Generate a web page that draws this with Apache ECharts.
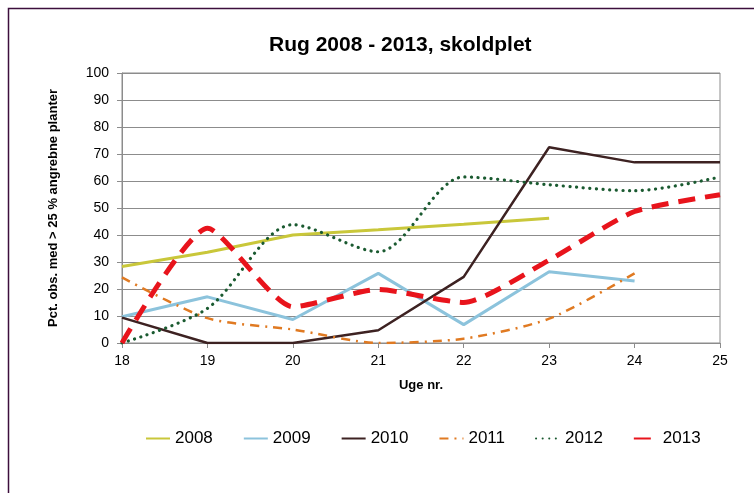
<!DOCTYPE html>
<html>
<head>
<meta charset="utf-8">
<script src="https://cdn.jsdelivr.net/npm/echarts@6/dist/echarts.min.js"></script>
<style>html,body{margin:0;padding:0;background:#fff}#c{width:754px;height:493px}</style>
</head>
<body>
<div id="c"></div>
<script>
var weeks = ['18','19','20','21','22','23','24','25'];
var yTicks = [0,10,20,30,40,50,60,70,80,90,100];
var s2008 = [28.3, 33.6, 40.0, 41.9, 44.0, 46.2, null, null];
var s2009 = [9.7, 17.1, 8.7, 25.8, 6.8, 26.4, 23.0, null];
var s2010 = [9.4, 0, 0, 4.7, 24.5, 72.5, 66.9, 66.9];
var s2011 = [24.3, 9.2, 5.0, 0, 1.6, 9.0, 25.8, null];
var s2012 = [0, 12.8, 43.8, 33.8, 61.5, 58.6, 56.4, 61.5];
var s2013 = [0, 42.5, 13.4, 19.8, 15.0, 30.7, 48.7, 54.9];

var chart = echarts.init(document.getElementById('c'));
var font = 'Liberation Sans, Arial, sans-serif';
chart.setOption({
  animation: false,
  textStyle: {fontFamily: font},
  title: {
    text: 'Rug 2008 - 2013, skoldplet',
    left: 264, top: 30,
    textStyle: {fontSize: 21, fontWeight: 'bold', color: '#000', fontFamily: font}
  },
  graphic: [{
    type: 'rect', left: 6, top: 6,
    shape: {width: 800, height: 600},
    style: {fill: 'none', stroke: '#3c0f3c', lineWidth: 1.5}
  }],
  legend: {
    top: 425, left: 140,
    itemWidth: 24, itemHeight: 12, itemGap: 30,
    itemStyle: {opacity: 0},
    textStyle: {fontSize: 17, color: '#000', fontFamily: font},
    data: ['2008','2009','2010','2011','2012','2013']
  },
  grid: {left: 122, right: 34, top: 73, bottom: 150, show: true, borderColor: '#8c8c8c', borderWidth: 1},
  xAxis: {
    type: 'category', data: weeks, boundaryGap: false,
    name: 'Uge nr.', nameLocation: 'middle', nameGap: 36,
    nameTextStyle: {fontSize: 13, fontWeight: 'bold', color: '#000', fontFamily: font},
    axisLine: {lineStyle: {color: '#8c8c8c'}},
    axisTick: {show: true, length: 5, lineStyle: {color: '#8c8c8c'}},
    axisLabel: {fontSize: 14, color: '#000', margin: 11, fontFamily: font},
    splitLine: {show: false}
  },
  yAxis: {
    type: 'value', min: 0, max: 100, interval: 10,
    name: 'Pct. obs. med > 25 % angrebne planter', nameLocation: 'middle', nameGap: 62,
    nameTextStyle: {fontSize: 13, fontWeight: 'bold', color: '#000', fontFamily: font},
    axisLine: {show: true, lineStyle: {color: '#8c8c8c'}},
    axisTick: {show: true, length: 5, lineStyle: {color: '#8c8c8c'}},
    axisLabel: {fontSize: 14, color: '#000', margin: 13, fontFamily: font,
      formatter: function(v){ return yTicks.indexOf(v) >= 0 ? String(v) : ''; }},
    splitLine: {lineStyle: {color: '#8c8c8c', width: 1}}
  },
  series: [
    {name: '2008', type: 'line', data: s2008, symbol: 'none', itemStyle: {color: '#c9c73a'},
     lineStyle: {color: '#c9c73a', width: 3}},
    {name: '2009', type: 'line', data: s2009, symbol: 'none', itemStyle: {color: '#8cc3dc'},
     lineStyle: {color: '#8cc3dc', width: 3}},
    {name: '2010', type: 'line', data: s2010, symbol: 'none', itemStyle: {color: '#3d2222'},
     lineStyle: {color: '#3d2222', width: 2.5}},
    {name: '2011', type: 'line', data: s2011, symbol: 'none', smooth: 0.25, itemStyle: {color: '#e07a22'},
     lineStyle: {color: '#e07a22', width: 2.5, type: [9, 6, 2, 6]}},
    {name: '2012', type: 'line', data: s2012, symbol: 'none', smooth: 0.3, itemStyle: {color: '#1a5a30'},
     lineStyle: {color: '#1a5a30', width: 3.2, type: [0.1, 6.5], cap: 'round'}},
    {name: '2013', type: 'line', data: s2013, symbol: 'none', smooth: 0.2, itemStyle: {color: '#e8141c'},
     lineStyle: {color: '#e8141c', width: 5, type: [17, 10]}}
  ]
});
</script>
</body>
</html>
